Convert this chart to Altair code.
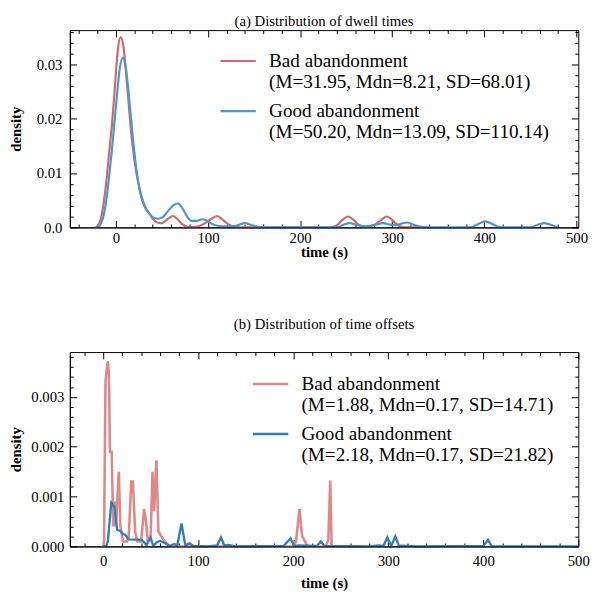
import altair as alt
import pandas as pd

FONT = "Liberation Serif"

# ---------------- panel (a): dwell times (KDE) ----------------
ta_bad_x = [-22, -18, -14.6, -11, -7.5, -4, -1, 2, 5, 8, 11, 14, 17, 20, 24, 28, 32, 36, 40, 45,
            50, 56, 62, 67, 72, 78, 86, 95, 102, 110, 116, 122, 130, 140, 232, 240, 246, 252, 258, 264,
            272, 280, 288, 294, 300, 306, 314, 330]
ta_bad_y = [0, 0.0008, 0.003, 0.0075, 0.0135, 0.0195, 0.026, 0.0325, 0.035, 0.0335, 0.0285, 0.0225,
            0.0168, 0.0125, 0.0085, 0.0056, 0.0037, 0.0026, 0.0016, 0.0009, 0.0008, 0.0015, 0.0021,
            0.0015, 0.0006, 0.0001, 0.0001, 0.0006, 0.0014, 0.0021, 0.0014, 0.0006, 0.0001, 0, 0,
            0.0004, 0.0014, 0.002, 0.0014, 0.0004, 0.0001, 0.0004, 0.0014, 0.002, 0.0014, 0.0004, 0, 0]
ta_good_x = [-20, -16, -12.8, -10, -7.5, -4.5, -2, 1, 4, 7.5, 10, 13, 16, 19, 22, 25, 28, 32, 36, 41,
             46, 51, 56, 62, 67, 72, 77, 82, 88, 94, 99, 104, 110, 120, 130, 140, 146, 152, 160, 240,
             247, 254, 261, 270, 282, 290, 298, 304, 310, 316, 323, 332, 340, 385, 393, 401, 409, 418,
             450, 458, 465, 472, 480]
ta_good_y = [0, 0.0008, 0.0026, 0.0055, 0.0092, 0.014, 0.0185, 0.024, 0.029, 0.0312, 0.0302, 0.0262,
             0.0208, 0.0155, 0.011, 0.0076, 0.0053, 0.0035, 0.0026, 0.0018, 0.0016, 0.0019, 0.0029,
             0.004, 0.0044, 0.0036, 0.0021, 0.0012, 0.0012, 0.0015, 0.0012, 0.0007, 0.0003, 0.0002,
             0.0003, 0.0008, 0.0005, 0.0002, 0, 0, 0.0005, 0.0008, 0.0005, 0.0002, 0.0005, 0.0008,
             0.0005, 0.0004, 0.0007, 0.0009, 0.0005, 0.0001, 0, 0, 0.0006, 0.0011, 0.0006, 0, 0,
             0.0005, 0.0008, 0.0005, 0]

# ---------------- panel (b): time offsets ----------------
tb_bad_x = [0, 1, 2.5, 4, 5.2, 6.2, 7.2, 9, 10.7, 12.5, 13.5, 16.5, 18.2, 20.9, 25, 27, 29.6, 31.3,
            33.7, 36, 40, 43.1, 45.2, 47, 50, 52, 53.7, 56.1, 58.2, 61.3, 65, 70, 200, 203, 206.6,
            209.5, 212.4, 215, 234, 237, 239, 240.5, 245]
tb_bad_y = [0, 0.0001, 0.0033, 0.0036, 0.00372, 0.0034, 0.0019, 0.0019, 0.0004, 0.0009, 0.0004,
            0.0015, 0.0004, 0.0001, 0.0001, 0.0002, 0.0013, 0.0013, 0.0003, 0.0001, 0.0001, 0.00075,
            0.0005, 0.0001, 0.0002, 0.0015, 0.0007, 0.00173, 0.0003, 0.0002, 0.0001, 0, 0, 0.0001,
            0.00075, 0.0002, 0.0001, 0, 0, 0.00013, 0.00132, 0, 0]
tb_good_x = [0, 3, 5, 8.6, 10, 12.1, 14.8, 18.2, 21, 23.4, 26.9, 40.6, 45.8, 49.9, 52.7, 57, 60, 65,
             70, 75, 78, 82.5, 86.5, 91, 95, 110, 120, 124, 127.5, 132, 140, 190, 197.3, 201, 206,
             225, 229, 233, 280, 290, 295, 299, 303, 307.5, 311, 320, 330, 400, 405, 409, 500]
tb_good_y = [0, 0, 0.0001, 0.00088, 0.00085, 0.00078, 0.00033, 0.00031, 0.00025, 0.00023, 0.00014,
             0.00013, 0.00003, 0.00018, 0.00001, 0.00009, 0.00011, 0.00007, 0.00001, 0.00005,
             0.00002, 0.00046, 0.00002, 0.00006, 0.00001, 0, 0.00002, 0.00018, 0.00002, 0.00003, 0,
             0.00001, 0.00016, 0.00001, 0.00002, 0.00001, 0.0001, 0.00001, 0, 0.00002, 0.00001,
             0.00018, 0.00001, 0.0002, 0.00002, 0.00001, 0, 0.00001, 0.00013, 0, 0]

series_names = ["Bad abandonment", "Good abandonment"]
stats_a = ["(M=31.95, Mdn=8.21, SD=68.01)", "(M=50.20, Mdn=13.09, SD=110.14)"]
stats_b = ["(M=1.88, Mdn=0.17, SD=14.71)", "(M=2.18, Mdn=0.17, SD=21.82)"]

# tick values
xa_major = [0, 100, 200, 300, 400, 500]
xa_minor = [v for v in range(-40, 500, 20) if v % 100 != 0]
ya_major = [0.0, 0.01, 0.02, 0.03]
ya_minor = [round(i * 0.002, 4) for i in range(1, 19) if i % 5 != 0]
xb_major = [0, 100, 200, 300, 400, 500]
xb_minor = [v for v in range(-20, 500, 20) if v % 100 != 0]
yb_major = [0.0, 0.001, 0.002, 0.003]
yb_minor = [round(i * 0.0002, 5) for i in range(1, 20) if i % 5 != 0]


def make_df(bx, by, gx, gy, stats):
    lab = [f"{n}|{s}" for n, s in zip(series_names, stats)]
    rows = [{"x": a, "d": b, "series": lab[0]} for a, b in zip(bx, by)]
    rows += [{"x": a, "d": b, "series": lab[1]} for a, b in zip(gx, gy)]
    return pd.DataFrame(rows), lab


def panel(df, labels, colors, widths, interp, xdom, ydom, xmaj, xmin, ymaj, ymin,
          ylabelexpr, title, w, h, lx, ly, ylpad, ytpad, xlpad, xtpad, toff, rowpad):
    xs = alt.Scale(domain=xdom, nice=False, zero=False)
    ys = alt.Scale(domain=ydom, nice=False, zero=False)
    base = alt.Chart(df)
    lines = base.mark_line(interpolate=interp).encode(
        x=alt.X("x:Q", scale=xs, axis=alt.Axis(
            orient="bottom", values=xmaj, ticks=False, tickSize=0, domain=True,
            domainColor="black", domainWidth=1, labelPadding=xlpad, labelFlush=False,
            labelOverlap=False, title="time (s)", titlePadding=xtpad, zindex=1, grid=False)),
        y=alt.Y("d:Q", scale=ys, axis=alt.Axis(
            orient="left", values=ymaj, ticks=False, tickSize=0, domain=True,
            domainColor="black", domainWidth=1, labelPadding=ylpad, labelExpr=ylabelexpr,
            labelFlush=False, labelOverlap=False, title="density", titlePadding=ytpad,
            zindex=1, grid=False)),
        color=alt.Color("series:N", scale=alt.Scale(domain=labels, range=colors),
                        legend=alt.Legend(
                            orient="none", legendX=lx, legendY=ly, title=None,
                            labelExpr="split(datum.label, '|')", labelFont=FONT,
                            labelFontSize=19.5, labelLimit=600, labelColor="black",
                            labelOffset=12, symbolType="stroke", symbolSize=1296,
                            symbolStrokeWidth=2.3, rowPadding=rowpad, padding=0)),
        strokeWidth=alt.StrokeWidth("series:N", scale=alt.Scale(domain=labels, range=widths),
                                    legend=None),
    )

    def ticks(ox, xv, oy, yv, size):
        return base.mark_point(opacity=0).encode(
            x=alt.X("x:Q", scale=xs, axis=alt.Axis(
                orient=ox, values=xv, offset=-size, tickSize=size, tickColor="black",
                tickWidth=1, domain=False, labels=False, title=None, grid=False)),
            y=alt.Y("d:Q", scale=ys, axis=alt.Axis(
                orient=oy, values=yv, offset=-size, tickSize=size, tickColor="black",
                tickWidth=1, domain=False, labels=False, title=None, grid=False)),
        )

    layers = [lines,
              ticks("bottom", xmaj, "left", ymaj, 7),
              ticks("bottom", xmin, "left", ymin, 3.5),
              ticks("top", xmaj, "right", ymaj, 7),
              ticks("top", xmin, "right", ymin, 3.5)]
    return alt.layer(*layers).resolve_axis(x="independent", y="independent").properties(
        width=w, height=h,
        title=alt.TitleParams(text=title, font=FONT, fontSize=15, fontWeight="normal",
                              color="black", offset=toff, anchor="middle"))


df_a, lab_a = make_df(ta_bad_x, ta_bad_y, ta_good_x, ta_good_y, stats_a)
df_b, lab_b = make_df(tb_bad_x, tb_bad_y, tb_good_x, tb_good_y, stats_b)

top = panel(df_a, lab_a, ["#d46767", "#4b96cd"], [2.2, 2.2], "monotone",
            [-50, 502], [0, 0.0363], xa_major, xa_minor, ya_major, ya_minor,
            "datum.value == 0 ? '0.0' : format(datum.value, '.2f')",
            "(a)  Distribution of dwell times", 518, 201, 152, 12,
            8, 13, 3, 0, 1, -5)
bottom = panel(df_b, lab_b, ["#e08787", "#327dbe"], [2.6, 2.4], "linear",
               [-35, 500], [0, 0.0039], xb_major, xb_minor, yb_major, yb_minor,
               "format(datum.value, '.3f')",
               "(b)  Distribution of time offsets", 518, 198, 185, 13,
               6, 7, 7, 8, 20, -10)

chart = alt.vconcat(top, bottom, spacing=57).resolve_scale(
    color="independent", strokeWidth="independent").resolve_legend(
    color="independent").properties(
    padding={"left": 0, "top": 0, "right": 4, "bottom": 0}
).configure_view(stroke="black", strokeWidth=1).configure_axis(
    labelFont=FONT, labelFontSize=15, labelColor="black",
    titleFont=FONT, titleFontSize=15, titleFontWeight="bold", titleColor="black"
)

chart.save("out.html", embed_options={"renderer": "svg", "actions": False})
